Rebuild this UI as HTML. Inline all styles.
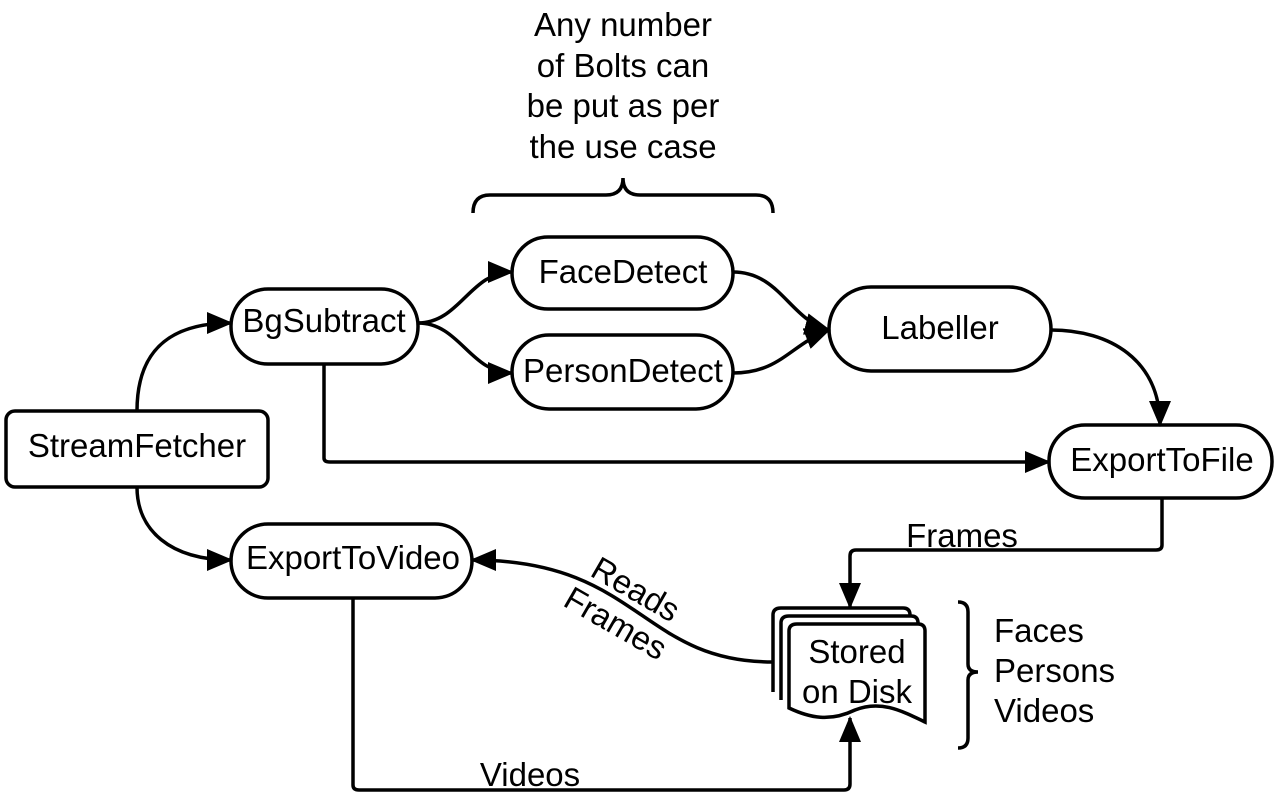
<!DOCTYPE html>
<html><head><style>html,body{margin:0;padding:0;background:#fff}svg{display:block}text{font-family:"Liberation Sans",sans-serif;font-size:33px;fill:#000}</style></head>
<body>
<svg width="1275" height="809" viewBox="0 0 1275 809">
<defs>
<marker id="b" markerWidth="26" markerHeight="22" refX="24" refY="11" orient="auto" markerUnits="userSpaceOnUse"><path d="M0,0 L26,11 L0,22 z" fill="#000"/></marker></defs>
<g fill="none" stroke="#000" stroke-width="3.5">
<rect x="6" y="411" width="262" height="76" rx="9"/>
<rect x="231" y="289" width="187" height="75" rx="37"/>
<rect x="512" y="237" width="221" height="72" rx="36"/>
<rect x="512" y="335" width="221" height="74" rx="37"/>
<rect x="829" y="287" width="222" height="84" rx="42"/>
<rect x="1049" y="425" width="223" height="73" rx="36"/>
<rect x="231" y="524" width="241" height="74" rx="37"/>
<g marker-end="url(#b)">
<path d="M137 411 C137 350 170 323 231 323"/>
<path d="M137 487 C137 530 170 560 231 560"/>
<path d="M418 323 C460 323 470 272 512 272"/>
<path d="M418 323 C460 323 470 373 512 373"/>
<path d="M733 272 C780 272 790 320 829 330"/>
<path d="M733 373 C780 373 790 345 829 330"/>
<path d="M1051 330 C1110 330 1160 360 1160 425"/>
<path d="M324 364 L324 458 Q324 462 330 462 L1049 462"/>
<path d="M1162 498 L1162 545 Q1162 550 1156 550 L856 550 Q850 550 850 556 L850 607"/>
<path d="M353 598 L353 785 Q353 790 359 790 L844 790 Q850 790 850 784 L850 718"/>
<path d="M773 662 C640 662 640 560 472 560"/>
</g>
<path d="M473 213 Q473 195 490 195 L606 195 Q623 195 623 178 Q623 195 640 195 L756 195 Q773 195 773 213"/>
<path d="M958 602 Q968 602 968 612 L968 664 Q968 672 978 672 Q968 672 968 680 L968 738 Q968 748 958 748"/>
<path d="M773 692 L773 615 Q773 608 781 608 L903 608 Q910 608 910 615"/>
<path d="M781 700 L781 623 Q781 616 789 616 L911 616 Q918 616 918 623"/>
<path d="M789 708 L789 631 Q789 624 797 624 L918 624 Q925 624 925 631 L925 722 C900 710 880 700 855 710 C830 722 810 718 789 708 Z" fill="#fff"/>
</g>
<g text-anchor="middle">
<text x="623" y="36">Any number</text>
<text x="623" y="77">of Bolts can</text>
<text x="623" y="117">be put as per</text>
<text x="623" y="158">the use case</text>
<text x="137" y="457">StreamFetcher</text>
<text x="324" y="332">BgSubtract</text>
<text x="623" y="283">FaceDetect</text>
<text x="623" y="382">PersonDetect</text>
<text x="940" y="339">Labeller</text>
<text x="1162" y="471">ExportToFile</text>
<text x="353" y="569">ExportToVideo</text>
<text x="857" y="663">Stored</text>
<text x="857" y="703">on Disk</text>
<text x="962" y="547">Frames</text>
<text x="530" y="786">Videos</text>
<text x="630" y="599" transform="rotate(30 630 599)">Reads</text>
<text x="610" y="633" transform="rotate(30 610 633)">Frames</text>
</g>
<text x="994" y="642">Faces</text>
<text x="994" y="682">Persons</text>
<text x="994" y="722">Videos</text>
</svg>
</body></html>
